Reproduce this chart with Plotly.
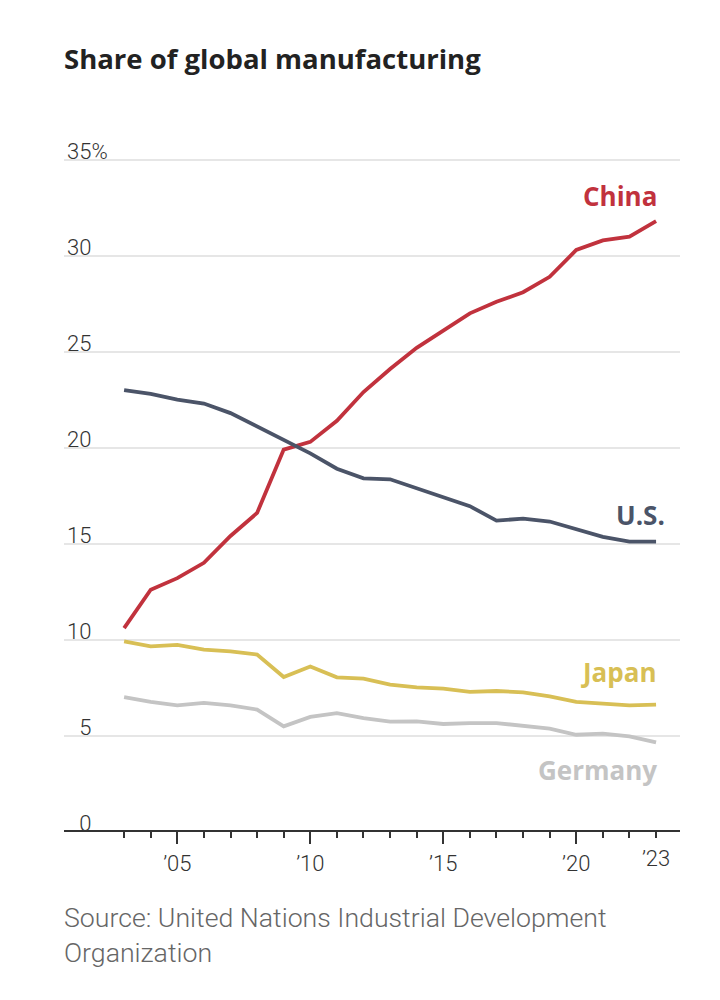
import plotly.graph_objects as go

years = list(range(2003, 2024))
china = [10.6, 12.6, 13.2, 14.0, 15.4, 16.6, 19.9, 20.3, 21.4, 22.9, 24.1, 25.2, 26.1, 27.0, 27.6, 28.1, 28.9, 30.3, 30.8, 31.0, 31.8]
us = [23.0, 22.8, 22.5, 22.3, 21.8, 21.1, 20.35, 19.7, 18.9, 18.4, 18.35, 17.9, 17.45, 16.95, 16.2, 16.3, 16.15, 15.75, 15.35, 15.1, 15.1]
japan = [9.9, 9.65, 9.72, 9.48, 9.39, 9.22, 8.05, 8.6, 8.03, 7.97, 7.65, 7.51, 7.44, 7.27, 7.32, 7.25, 7.04, 6.75, 6.66, 6.57, 6.61]
germany = [7.0, 6.75, 6.57, 6.7, 6.57, 6.35, 5.48, 5.97, 6.17, 5.91, 5.72, 5.74, 5.6, 5.65, 5.65, 5.51, 5.36, 5.04, 5.1, 4.96, 4.64]

series_names = ["China", "U.S.", "Japan", "Germany"]
series_values = [china, us, japan, germany]
series_colors = ["#c1323d", "#4b5468", "#d8bf55", "#c4c4c4"]

y_tickvals = [0, 5, 10, 15, 20, 25, 30, 35]
y_ticktext = ["\u20070", "\u20075", "10", "15", "20", "25", "30", "35%"]
x_major_vals = [2005, 2010, 2015, 2020]
x_major_text = ["\u201905", "\u201910", "\u201915", "\u201920"]
x_last_val = [2023]
x_last_text = ["\u201923"]

TICK_FONT = dict(family="Roboto", size=22, color="#333333", weight=300)

fig = go.Figure()
for name, vals, col in zip(series_names, series_values, series_colors):
    fig.add_trace(go.Scatter(x=years, y=vals, mode="lines", name=name,
                             line=dict(color=col, width=3.8), showlegend=False,
                             hoverinfo="skip"))
# invisible trace for secondary x axis
fig.add_trace(go.Scatter(x=[years[0], years[-1]], y=[0, 0], xaxis="x2", mode="lines",
                         line=dict(width=0), showlegend=False, hoverinfo="skip"))

label_pos = {"China": (2023.1, 33.1), "U.S.": (2023.4, 16.5),
             "Japan": (2023.1, 8.3), "Germany": (2023.1, 3.2)}
for name, col in zip(series_names, series_colors):
    lx, ly = label_pos[name]
    fig.add_annotation(x=lx, y=ly, xref="x", yref="y",
                       text=f"<b>{name}</b>", showarrow=False, xanchor="right",
                       yanchor="middle",
                       font=dict(family="Open Sans", size=26, color=col))

yr = [-0.6, 36.5]
zero_pos = (0 - yr[0]) / (yr[1] - yr[0])

fig.add_annotation(x=-0.003, y=1.13, xref="paper", yref="paper", xanchor="left", yanchor="top",
                   text="<b>Share of global manufacturing</b>", showarrow=False,
                   font=dict(family="Open Sans", size=27.5, color="#222222"))
fig.add_annotation(x=-0.003, y=-0.08, xref="paper", yref="paper", xanchor="left", yanchor="top",
                   text="Source: United Nations Industrial Development<br>Organization",
                   showarrow=False, align="left",
                   font=dict(family="Roboto", size=26.7, color="#666666", weight=300))

xr = [2000.74, 2023.9]
fig.update_layout(
    width=712, height=992,
    paper_bgcolor="white", plot_bgcolor="white",
    margin=dict(l=56, r=40, t=123, b=157, autoexpand=False),
    xaxis=dict(range=xr, tickvals=x_major_vals, ticktext=x_major_text,
               anchor="free", position=zero_pos,
               ticks="outside", ticklen=12, tickwidth=2, tickcolor="#333333",
               minor=dict(tickvals=years, ticks="outside", ticklen=6, tickwidth=2,
                          tickcolor="#333333"),
               showline=True, linecolor="#333333", linewidth=2,
               showgrid=False, zeroline=False, tickfont=TICK_FONT, ticklabelstandoff=0),
    xaxis2=dict(range=xr, overlaying="x", side="bottom", anchor="free", position=zero_pos,
                tickvals=x_last_val, ticktext=x_last_text, ticks="",
                showline=False, showgrid=False, zeroline=False, tickfont=TICK_FONT,
                ticklabelstandoff=12),
    yaxis=dict(range=yr, tickvals=y_tickvals, ticktext=y_ticktext,
               ticklabelposition="inside", ticks="", showline=False,
               showgrid=True, gridcolor="#e6e6e6", gridwidth=2, zeroline=False,
               tickfont=TICK_FONT, ticklabelshift=-8, ticklabelstandoff=0),
)
fig.write_html("out.html")
